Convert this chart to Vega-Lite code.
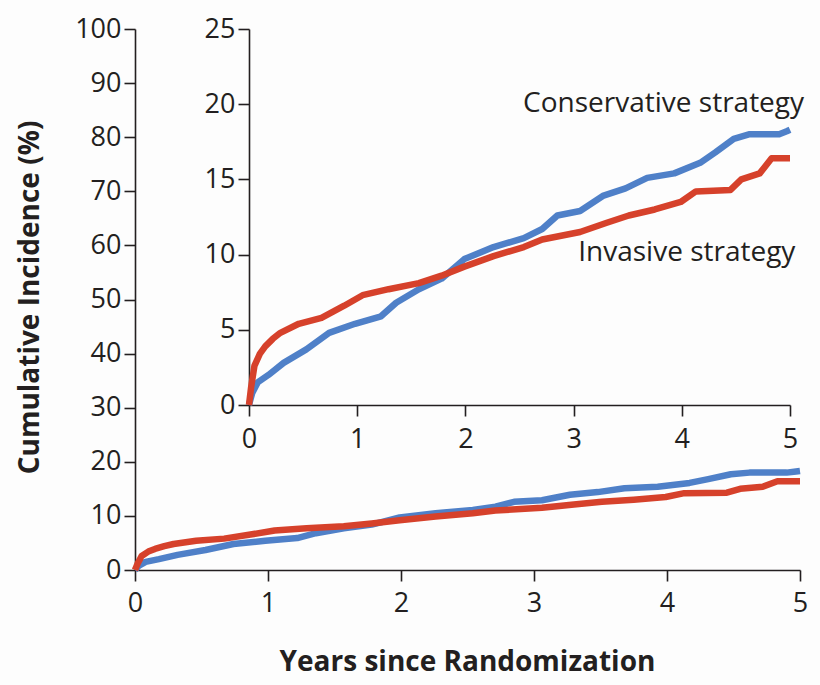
{
  "$schema": "https://vega.github.io/schema/vega-lite/v6.json",
  "autosize": "none",
  "width": 665,
  "height": 541,
  "padding": {"left": 135, "top": 29, "right": 20, "bottom": 115},
  "background": "#fdfdfd",
  "config": {
    "view": {"stroke": null},
    "font": "Open Sans",
    "axis": {
      "grid": false,
      "domainColor": "#231f20",
      "domainWidth": 1.6,
      "tickColor": "#231f20",
      "tickWidth": 1.6,
      "tickSize": 11,
      "labelFont": "Open Sans",
      "labelFontSize": 27,
      "labelColor": "#231f20",
      "labelPadding": 3,
      "labelFlush": false,
      "format": "d",
      "titleFont": "Open Sans",
      "titleFontSize": 28,
      "titleFontWeight": "bold",
      "titleColor": "#231f20"
    }
  },
  "datasets": {
    "km": [
      {"t": 0, "pct": 0, "s": "Conservative"},
      {"t": 0.03, "pct": 0.8, "s": "Conservative"},
      {"t": 0.08, "pct": 1.5, "s": "Conservative"},
      {"t": 0.18, "pct": 2.0, "s": "Conservative"},
      {"t": 0.32, "pct": 2.8, "s": "Conservative"},
      {"t": 0.53, "pct": 3.7, "s": "Conservative"},
      {"t": 0.74, "pct": 4.8, "s": "Conservative"},
      {"t": 0.98, "pct": 5.4, "s": "Conservative"},
      {"t": 1.22, "pct": 5.9, "s": "Conservative"},
      {"t": 1.36, "pct": 6.8, "s": "Conservative"},
      {"t": 1.57, "pct": 7.7, "s": "Conservative"},
      {"t": 1.78, "pct": 8.4, "s": "Conservative"},
      {"t": 1.99, "pct": 9.7, "s": "Conservative"},
      {"t": 2.26, "pct": 10.5, "s": "Conservative"},
      {"t": 2.54, "pct": 11.1, "s": "Conservative"},
      {"t": 2.71, "pct": 11.7, "s": "Conservative"},
      {"t": 2.85, "pct": 12.6, "s": "Conservative"},
      {"t": 3.06, "pct": 12.9, "s": "Conservative"},
      {"t": 3.27, "pct": 13.9, "s": "Conservative"},
      {"t": 3.48, "pct": 14.4, "s": "Conservative"},
      {"t": 3.68, "pct": 15.1, "s": "Conservative"},
      {"t": 3.93, "pct": 15.4, "s": "Conservative"},
      {"t": 4.17, "pct": 16.1, "s": "Conservative"},
      {"t": 4.31, "pct": 16.8, "s": "Conservative"},
      {"t": 4.48, "pct": 17.7, "s": "Conservative"},
      {"t": 4.62, "pct": 18.0, "s": "Conservative"},
      {"t": 4.9, "pct": 18.0, "s": "Conservative"},
      {"t": 4.97, "pct": 18.2, "s": "Conservative"},
      {"t": 5.0, "pct": 18.3, "s": "Conservative"},
      {"t": 0, "pct": 0, "s": "Invasive"},
      {"t": 0.02, "pct": 1.2, "s": "Invasive"},
      {"t": 0.05, "pct": 2.6, "s": "Invasive"},
      {"t": 0.1, "pct": 3.4, "s": "Invasive"},
      {"t": 0.15, "pct": 3.9, "s": "Invasive"},
      {"t": 0.22, "pct": 4.4, "s": "Invasive"},
      {"t": 0.29, "pct": 4.8, "s": "Invasive"},
      {"t": 0.46, "pct": 5.4, "s": "Invasive"},
      {"t": 0.67, "pct": 5.8, "s": "Invasive"},
      {"t": 0.88, "pct": 6.6, "s": "Invasive"},
      {"t": 1.05, "pct": 7.3, "s": "Invasive"},
      {"t": 1.29, "pct": 7.7, "s": "Invasive"},
      {"t": 1.57, "pct": 8.1, "s": "Invasive"},
      {"t": 1.78, "pct": 8.6, "s": "Invasive"},
      {"t": 1.99, "pct": 9.2, "s": "Invasive"},
      {"t": 2.26, "pct": 9.9, "s": "Invasive"},
      {"t": 2.54, "pct": 10.5, "s": "Invasive"},
      {"t": 2.71, "pct": 11.0, "s": "Invasive"},
      {"t": 3.06, "pct": 11.5, "s": "Invasive"},
      {"t": 3.3, "pct": 12.1, "s": "Invasive"},
      {"t": 3.51, "pct": 12.6, "s": "Invasive"},
      {"t": 3.75, "pct": 13.0, "s": "Invasive"},
      {"t": 3.99, "pct": 13.5, "s": "Invasive"},
      {"t": 4.13, "pct": 14.2, "s": "Invasive"},
      {"t": 4.45, "pct": 14.3, "s": "Invasive"},
      {"t": 4.55, "pct": 15.0, "s": "Invasive"},
      {"t": 4.72, "pct": 15.4, "s": "Invasive"},
      {"t": 4.83, "pct": 16.4, "s": "Invasive"},
      {"t": 5.0, "pct": 16.4, "s": "Invasive"}
    ],
    "labels": [
      {"t": 5.13, "pct": 20.0, "label": "Conservative strategy"},
      {"t": 5.05, "pct": 10.1, "label": "Invasive strategy"}
    ]
  },
  "layer": [
    {
      "data": {"name": "km"},
      "mark": {"type": "line", "strokeWidth": 6.5, "strokeCap": "butt", "strokeJoin": "round"},
      "encoding": {
        "x": {
          "field": "t", "type": "quantitative",
          "scale": {"domain": [0, 5], "nice": false, "zero": false},
          "axis": {"values": [0, 1, 2, 3, 4, 5], "title": "Years since Randomization", "titleX": 332, "titleY": 92, "titleBaseline": "middle", "labelPadding": 9}
        },
        "y": {
          "field": "pct", "type": "quantitative",
          "scale": {"domain": [0, 100], "nice": false},
          "axis": {"values": [0, 10, 20, 30, 40, 50, 60, 70, 80, 90, 100], "title": "Cumulative Incidence (%)", "titleX": -105, "titleY": 268, "titleBaseline": "middle", "titleAngle": -90}
        },
        "color": {"field": "s", "type": "nominal", "scale": {"domain": ["Conservative", "Invasive"], "range": ["#4f80c8", "#d6412b"]}, "legend": null}
      }
    },
    {
      "layer": [
        {
          "data": {"name": "km"},
          "mark": {"type": "line", "strokeWidth": 6.5, "strokeCap": "butt", "strokeJoin": "round"},
          "encoding": {
            "x": {
              "field": "t", "type": "quantitative",
              "scale": {"domain": [0, 5], "nice": false, "zero": false, "range": [114, 655]},
              "axis": {"orient": "bottom", "offset": -165, "values": [0, 1, 2, 3, 4, 5], "title": null, "labelPadding": 10}
            },
            "y": {
              "field": "pct", "type": "quantitative",
              "scale": {"domain": [0, 25], "nice": false, "range": [376, 0]},
              "axis": {"orient": "left", "offset": -114, "values": [0, 5, 10, 15, 20, 25], "title": null}
            },
            "color": {"field": "s", "type": "nominal", "scale": {"domain": ["Conservative", "Invasive"], "range": ["#4f80c8", "#d6412b"]}, "legend": null}
          }
        },
        {
          "data": {"name": "labels"},
          "mark": {"type": "text", "align": "right", "baseline": "middle", "fontSize": 28, "font": "Open Sans", "color": "#231f20"},
          "encoding": {
            "x": {"field": "t", "type": "quantitative"},
            "y": {"field": "pct", "type": "quantitative"},
            "text": {"field": "label"}
          }
        }
      ]
    }
  ],
  "resolve": {"scale": {"x": "independent", "y": "independent"}, "axis": {"x": "independent", "y": "independent"}}
}
